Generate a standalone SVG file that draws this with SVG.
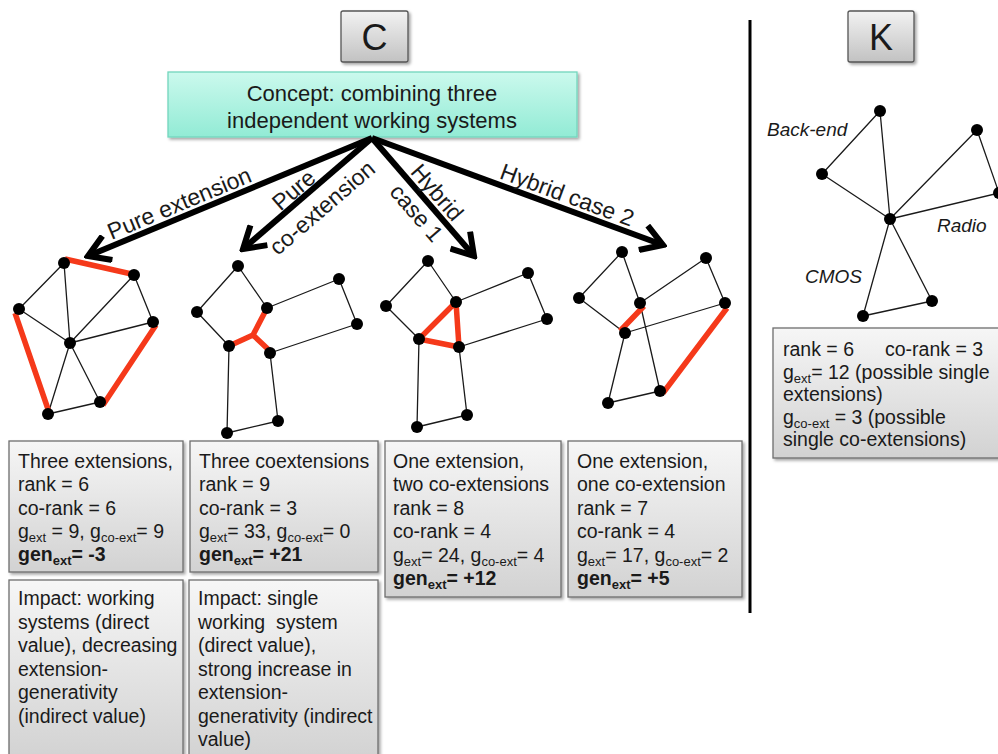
<svg xmlns="http://www.w3.org/2000/svg" width="998" height="754" viewBox="0 0 998 754">
<defs>
<linearGradient id="gBox" x1="0" y1="0" x2="0" y2="1"><stop offset="0" stop-color="#f6f6f6"/><stop offset="1" stop-color="#d2d2d2"/></linearGradient>
<linearGradient id="gBtn" x1="0" y1="0" x2="0" y2="1"><stop offset="0" stop-color="#f2f2f2"/><stop offset="1" stop-color="#c2c2c2"/></linearGradient>
<linearGradient id="gAqua" x1="0" y1="0" x2="0" y2="1"><stop offset="0" stop-color="#cbf9ed"/><stop offset="1" stop-color="#92ebd5"/></linearGradient>
<filter id="sh" x="-10%" y="-10%" width="130%" height="130%"><feDropShadow dx="2" dy="2" stdDeviation="1.8" flood-color="#000" flood-opacity="0.35"/></filter>
<marker id="chev" viewBox="0 0 30 30" markerWidth="30" markerHeight="30" refX="26" refY="15" orient="auto" markerUnits="userSpaceOnUse"><path d="M5,2 L26,15 L5,28" fill="none" stroke="#000" stroke-width="6"/></marker>
</defs>
<style>
text{font-family:"Liberation Sans",Arial,sans-serif;fill:#1a1a1a}
.t{font-size:19.5px}
.b{font-weight:bold}
.sub{font-size:13px}
.lbl{font-size:23px}
.it{font-size:19px;font-style:italic}
.box{fill:url(#gBox);stroke:#6e6e6e;stroke-width:1.3;filter:url(#sh)}
.btn{fill:url(#gBtn);stroke:#555;stroke-width:1.3;filter:url(#sh)}
.e{stroke:#1a1a1a;stroke-width:1.3;fill:none}
.r{stroke:#f5391a;stroke-width:5.5;stroke-linecap:butt;fill:none}
.n{fill:#000}
.arr{stroke:#000;stroke-width:6;fill:none;marker-end:url(#chev)}
</style>

<g id="boxC"><rect class="btn" x="341" y="11" width="67" height="51" rx="2"/><text x="374.5" y="50" text-anchor="middle" font-size="36">C</text></g>
<g id="boxK"><rect class="btn" x="848" y="11" width="66" height="51" rx="2"/><text x="881" y="50" text-anchor="middle" font-size="36">K</text></g>

<g id="concept"><rect x="168" y="72" width="409" height="65" fill="url(#gAqua)" stroke="#72d6bd" stroke-width="1.3" filter="url(#sh)"/>
<text x="372" y="101" text-anchor="middle" font-size="22">Concept: combining three</text>
<text x="372" y="128" text-anchor="middle" font-size="22">independent working systems</text></g>

<line id="separator" x1="750" y1="20" x2="750" y2="613" stroke="#000" stroke-width="3"/>

<g id="connectors">
<line class="arr" x1="372" y1="138" x2="88" y2="256"/>
<line class="arr" x1="372" y1="138" x2="243" y2="249"/>
<line class="arr" x1="372" y1="138" x2="474" y2="256"/>
<line class="arr" x1="372" y1="138" x2="663" y2="245"/>
<g transform="translate(180,218) rotate(-22.6)"><text class="lbl" x="5" y="-6" text-anchor="middle">Pure extension</text></g>
<g transform="translate(306,195) rotate(-40.7)"><text class="lbl" x="-6" y="-4" text-anchor="middle">Pure</text><text class="lbl" x="4" y="28" text-anchor="middle">co-extension</text></g>
<g transform="translate(414,190) rotate(49.2)"><text class="lbl" x="17" y="-8" text-anchor="middle">Hybrid</text><text class="lbl" x="19" y="21" text-anchor="middle">case 1</text></g>
<g transform="translate(565,210) rotate(20.2)"><text class="lbl" x="-3" y="-7" text-anchor="middle">Hybrid case 2</text></g>
</g>

<g id="graph1">
<path class="e" d="M64,263L19,309M64,263L70,343M134,275L70,343M134,275L153,322M19,309L70,343M153,322L70,343M70,343L48,414M70,343L100,402M48,414L100,402"/>
<path class="r" d="M65,259L136,275M15,313L50,415M156,325L103,405"/>
<circle class="n" cx="64" cy="263" r="6"/><circle class="n" cx="134" cy="275" r="6"/><circle class="n" cx="19" cy="309" r="6"/><circle class="n" cx="153" cy="322" r="6"/><circle class="n" cx="70" cy="343" r="6"/><circle class="n" cx="100" cy="402" r="6"/><circle class="n" cx="48" cy="414" r="6"/>
</g>

<g id="graph2">
<path class="e" d="M238,266L197,312M238,266L267,308M197,312L229,346M267,308L339,279M339,279L357,324M357,324L270,353M270,353L278,421M278,421L227,433M227,433L229,346"/>
<path class="r" d="M266,310L253,335L229,346M253,335L271,352" stroke-linejoin="round"/>
<circle class="n" cx="238" cy="266" r="6"/><circle class="n" cx="197" cy="312" r="6"/><circle class="n" cx="267" cy="308" r="6"/><circle class="n" cx="339" cy="279" r="6"/><circle class="n" cx="357" cy="324" r="6"/><circle class="n" cx="229" cy="346" r="6"/><circle class="n" cx="270" cy="353" r="6"/><circle class="n" cx="278" cy="421" r="6"/><circle class="n" cx="227" cy="433" r="6"/>
</g>

<g id="graph3">
<path class="e" d="M428,261L386,306M428,261L456,302M386,306L419,339M456,302L528,273M528,273L547,319M547,319L459,347M459,347L467,415M467,415L417,427M417,427L419,339"/>
<path class="r" d="M456,302L419,339L459,347Z" stroke-linejoin="miter"/>
<circle class="n" cx="428" cy="261" r="6"/><circle class="n" cx="386" cy="306" r="6"/><circle class="n" cx="456" cy="302" r="6"/><circle class="n" cx="528" cy="273" r="6"/><circle class="n" cx="547" cy="319" r="6"/><circle class="n" cx="419" cy="339" r="6"/><circle class="n" cx="459" cy="347" r="6"/><circle class="n" cx="467" cy="415" r="6"/><circle class="n" cx="417" cy="427" r="6"/>
</g>

<g id="graph4">
<path class="e" d="M622,252L579,298M622,252L640,303M640,303L660,391M640,303L706,258M706,258L725,303M579,298L625,333M625,333L725,303M625,333L608,403M608,403L660,391"/>
<path class="r" d="M644,306L620,331M727,308L663,393"/>
<circle class="n" cx="622" cy="252" r="6"/><circle class="n" cx="579" cy="298" r="6"/><circle class="n" cx="640" cy="303" r="6"/><circle class="n" cx="706" cy="258" r="6"/><circle class="n" cx="725" cy="303" r="6"/><circle class="n" cx="625" cy="333" r="6"/><circle class="n" cx="660" cy="391" r="6"/><circle class="n" cx="608" cy="403" r="6"/>
</g>

<g id="graphK">
<path class="e" d="M880,111L822,174M880,111L890,219M822,174L890,219M890,219L977,130M977,130L999,193M890,219L999,193M890,219L863,316M890,219L932,301M863,316L932,301"/>
<circle class="n" cx="880" cy="111" r="6"/><circle class="n" cx="822" cy="174" r="6"/><circle class="n" cx="890" cy="219" r="6"/><circle class="n" cx="977" cy="130" r="6"/><circle class="n" cx="999" cy="193" r="6"/><circle class="n" cx="863" cy="316" r="6"/><circle class="n" cx="932" cy="301" r="6"/>
<text class="it" x="767" y="136">Back-end</text>
<text class="it" x="937" y="232">Radio</text>
<text class="it" x="805" y="283">CMOS</text>
</g>

<g id="infoK">
<rect class="box" x="773" y="328" width="240" height="130"/>
<text class="t" y="356"><tspan x="783">rank = 6</tspan><tspan x="885">co-rank = 3</tspan></text>
<text class="t" x="783" y="379">g<tspan class="sub" dy="4">ext</tspan><tspan dy="-4">= 12 (possible single</tspan></text>
<text class="t" x="783" y="401">extensions)</text>
<text class="t" x="783" y="424">g<tspan class="sub" dy="4">co-ext</tspan><tspan dy="-4"> = 3 (possible</tspan></text>
<text class="t" x="783" y="446">single co-extensions)</text>
</g>

<g id="box1">
<rect class="box" x="9" y="441" width="174" height="131"/>
<text class="t" x="18" y="468">Three extensions,</text>
<text class="t" x="18" y="491">rank = 6</text>
<text class="t" x="18" y="515">co-rank = 6</text>
<text class="t" x="18" y="538">g<tspan class="sub" dy="4">ext</tspan><tspan dy="-4"> = 9, g</tspan><tspan class="sub" dy="4">co-ext</tspan><tspan dy="-4">= 9</tspan></text>
<text class="t b" x="18" y="561">gen<tspan class="sub" dy="4">ext</tspan><tspan dy="-4">= -3</tspan></text>
</g>

<g id="box2">
<rect class="box" x="190" y="441" width="188" height="131"/>
<text class="t" x="199" y="468">Three coextensions</text>
<text class="t" x="199" y="491">rank = 9</text>
<text class="t" x="199" y="515">co-rank = 3</text>
<text class="t" x="199" y="538">g<tspan class="sub" dy="4">ext</tspan><tspan dy="-4">= 33, g</tspan><tspan class="sub" dy="4">co-ext</tspan><tspan dy="-4">= 0</tspan></text>
<text class="t b" x="199" y="561">gen<tspan class="sub" dy="4">ext</tspan><tspan dy="-4">= +21</tspan></text>
</g>

<g id="box3">
<rect class="box" x="385" y="441" width="176" height="156"/>
<text class="t" x="393" y="468">One extension,</text>
<text class="t" x="393" y="491">two co-extensions</text>
<text class="t" x="393" y="515">rank = 8</text>
<text class="t" x="393" y="538">co-rank = 4</text>
<text class="t" x="393" y="562">g<tspan class="sub" dy="4">ext</tspan><tspan dy="-4">= 24, g</tspan><tspan class="sub" dy="4">co-ext</tspan><tspan dy="-4">= 4</tspan></text>
<text class="t b" x="393" y="585">gen<tspan class="sub" dy="4">ext</tspan><tspan dy="-4">= +12</tspan></text>
</g>

<g id="box4">
<rect class="box" x="568" y="441" width="174" height="156"/>
<text class="t" x="577" y="468">One extension,</text>
<text class="t" x="577" y="491">one co-extension</text>
<text class="t" x="577" y="515">rank = 7</text>
<text class="t" x="577" y="538">co-rank = 4</text>
<text class="t" x="577" y="562">g<tspan class="sub" dy="4">ext</tspan><tspan dy="-4">= 17, g</tspan><tspan class="sub" dy="4">co-ext</tspan><tspan dy="-4">= 2</tspan></text>
<text class="t b" x="577" y="585">gen<tspan class="sub" dy="4">ext</tspan><tspan dy="-4">= +5</tspan></text>
</g>

<g id="box5">
<rect class="box" x="9" y="580" width="174" height="180"/>
<text class="t" x="18" y="605">Impact: working</text>
<text class="t" x="18" y="629">systems (direct</text>
<text class="t" x="18" y="652">value), decreasing</text>
<text class="t" x="18" y="676">extension-</text>
<text class="t" x="18" y="699">generativity</text>
<text class="t" x="18" y="723">(indirect value)</text>
</g>

<g id="box6">
<rect class="box" x="189" y="580" width="189" height="180"/>
<text class="t" x="198" y="605">Impact: single</text>
<text class="t" x="198" y="629" xml:space="preserve">working  system</text>
<text class="t" x="198" y="652">(direct value),</text>
<text class="t" x="198" y="676">strong increase in</text>
<text class="t" x="198" y="699">extension-</text>
<text class="t" x="198" y="723">generativity (indirect</text>
<text class="t" x="198" y="746">value)</text>
</g>
</svg>
